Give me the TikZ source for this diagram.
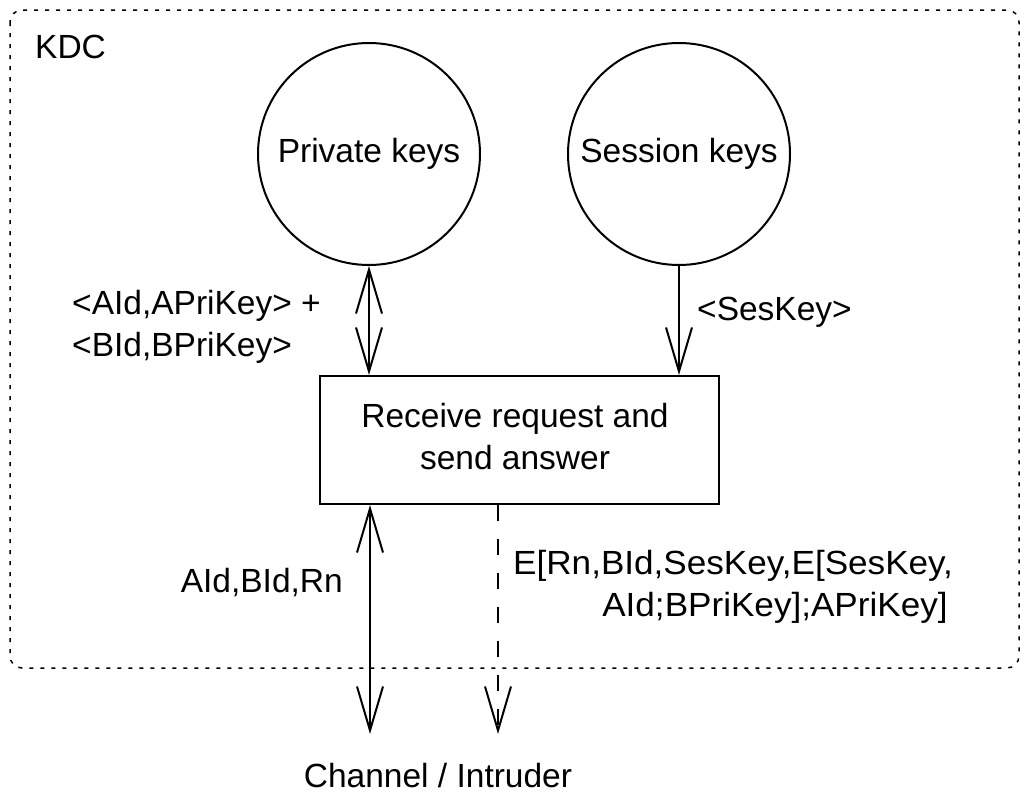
\documentclass[tikz,border=0pt]{standalone}
\usepackage{fontspec}
\setmainfont{Liberation Sans}
\usetikzlibrary{arrows.meta}
\begin{document}
\begin{tikzpicture}[x=1pt, y=-1pt,
  every node/.style={font=\fontsize{33.5}{42}\selectfont, inner sep=0pt},
  store/.style={draw, circle, line width=2pt, minimum size=222pt},
  proc/.style={draw, rectangle, line width=2pt, minimum width=399pt, minimum height=128pt},
  flow/.style={line width=2pt},
  secret/.style={line width=2pt, dash pattern=on 16pt off 18pt},
  boundary/.style={line width=1.5pt, dash pattern=on 4pt off 7pt, rounded corners=12pt},
  >={Straight Barb[length=44pt, width=26pt]}]
  % page frame
  \useasboundingbox (0,0) rectangle (1020,793);
  % KDC boundary
  \draw[boundary] (10,10) rectangle (1019,668);
  \node[anchor=base west] (kdc) at (35,58) {KDC};
  % key stores
  \node[store] (pk) at (369,154) {Private keys};
  \node[store] (sk) at (679,154) {Session keys};
  % process
  \node[proc] (box) at (519.5,440) {};
  \node[align=center] (boxtext) at (515,437) {Receive request and\\send answer};
  % outside end
  \node[anchor=base] (chan) at (438,787) {Channel / Intruder};
  \coordinate (cin) at (370,734);
  \coordinate (cout) at (498,734);
  % flows
  \draw[flow, <->] (pk.south) -- (pk.south |- box.north);
  \draw[flow, ->] (sk.south) -- (sk.south |- box.north);
  \draw[flow, <->] (cin |- box.south) -- (cin);
  \draw[secret, ->] (cout |- box.south) -- (cout);
  % labels
  \node[anchor=north west, align=left] (lpk) at (72,290.5) {<AId,APriKey> +\\<BId,BPriKey>};
  \node[anchor=base west] (lsk) at (697,320) {<SesKey>};
  \node[anchor=base east] (lin) at (343,592) {AId,BId,Rn};
  \node[anchor=north west, align=left, xscale=1.048, transform shape] (lout) at (513,550.5)
    {E[Rn,BId,SesKey,E[SesKey,\\\hspace*{85pt}AId;BPriKey];APriKey]};
\end{tikzpicture}
\end{document}
